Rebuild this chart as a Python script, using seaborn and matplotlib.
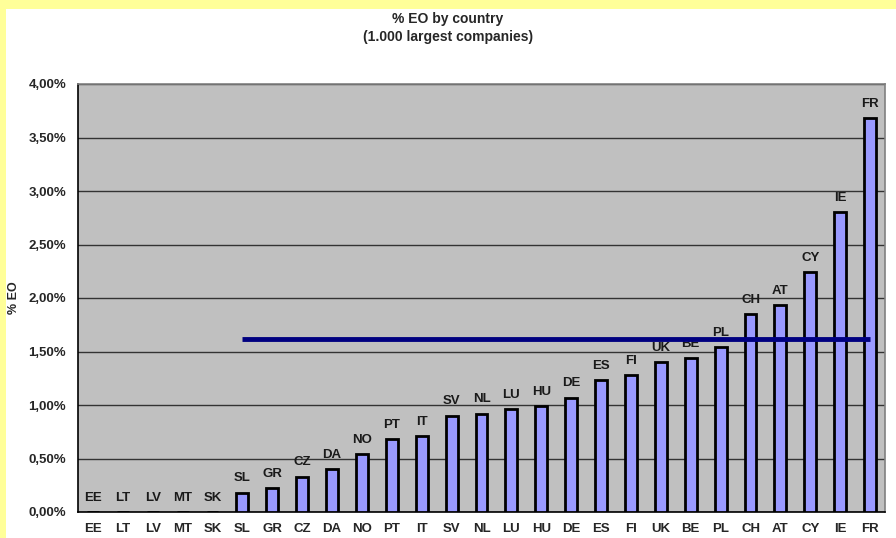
import matplotlib

matplotlib.use('Agg')

import numpy as np  # noqa: E402
import seaborn as sns  # noqa: E402
from matplotlib import pyplot as plt  # noqa: E402
from matplotlib.patches import Rectangle  # noqa: E402
from matplotlib.ticker import FixedLocator, FuncFormatter  # noqa: E402

countries = ['EE', 'LT', 'LV', 'MT', 'SK', 'SL', 'GR', 'CZ', 'DA', 'NO', 'PT', 'IT', 'SV', 'NL',
             'LU', 'HU', 'DE', 'ES', 'FI', 'UK', 'BE', 'PL', 'CH', 'AT', 'CY', 'IE', 'FR']
eo_pct = [0.0, 0.0, 0.0, 0.0, 0.0, 0.18, 0.22, 0.33, 0.40, 0.54, 0.68, 0.71, 0.90, 0.92,
          0.96, 0.99, 1.07, 1.23, 1.28, 1.40, 1.44, 1.54, 1.85, 1.93, 2.24, 2.80, 3.68]
avg_value = 1.62
avg_from, avg_to = 'SL', 'FR'
y_ticks = [0.0, 0.5, 1.0, 1.5, 2.0, 2.5, 3.0, 3.5, 4.0]

sns.set_style('white')
plt.rcParams['font.family'] = ['Liberation Sans', 'DejaVu Sans']
plt.rcParams['font.weight'] = 'bold'

fig = plt.figure(figsize=(8.96, 5.38), dpi=100, facecolor='#FFFF99')
fig.patches.append(Rectangle((6 / 896, 0), 1, (538 - 9) / 538, transform=fig.transFigure,
                             facecolor='white', edgecolor='none', zorder=-10))
ax = fig.add_axes([78 / 896, 26 / 538, 807 / 896, 428 / 538])
ax.set_facecolor('#C0C0C0')

sns.barplot(x=countries, y=eo_pct, color='#9999FF', saturation=1, edgecolor='black',
            linewidth=2, width=0.4, ax=ax, zorder=3)
for container in ax.containers:
    ax.bar_label(container, labels=countries, padding=6, fontsize=9.5, fontweight='bold',
                 color='#1a1a1a')

i0, i1 = countries.index(avg_from), countries.index(avg_to)
ax.plot([i0, i1], [avg_value, avg_value], color='#000080', lw=3.5, zorder=4,
        solid_capstyle='butt')

ax.set_ylim(0, 4.0)
ax.set_xlim(-0.5, len(countries) - 0.5)
ax.set_yticks(y_ticks)
ax.yaxis.set_major_formatter(FuncFormatter(lambda v, _: f'{v:.2f}%'.replace('.', ',')))
ax.grid(axis='y', color='#333333', lw=1, zorder=0)
ax.set_axisbelow(True)
ax.xaxis.set_minor_locator(FixedLocator(np.arange(-0.5, len(countries), 1)))
ax.tick_params(axis='x', which='major', length=0, pad=8, labelsize=9.5)
ax.tick_params(axis='x', which='minor', length=5, width=1, color='black', direction='out')
ax.tick_params(axis='y', length=5, width=1, color='black', direction='out', labelsize=9.5)
for lab in ax.get_xticklabels() + ax.get_yticklabels():
    lab.set_fontweight('bold')

for side in ['left', 'bottom']:
    ax.spines[side].set_color('black')
    ax.spines[side].set_linewidth(1.2)
for side in ['top', 'right']:
    ax.spines[side].set_color('#808080')
    ax.spines[side].set_linewidth(1.2)

ax.set_ylabel('% EO', fontsize=9, fontweight='bold', labelpad=6)
fig.text(0.5, 1 - 28 / 538, '% EO by country\n(1.000 largest companies)', ha='center',
         va='center', fontsize=10, fontweight='bold', linespacing=1.4)

fig.savefig('out.png', dpi=100, facecolor=fig.get_facecolor())
